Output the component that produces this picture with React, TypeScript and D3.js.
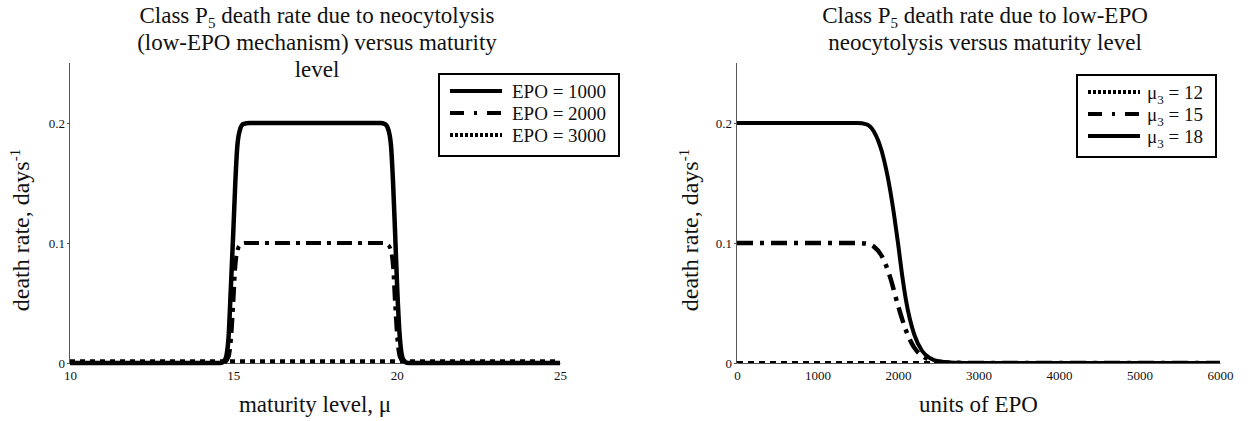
import React, { useEffect, useRef } from "react";
import * as d3 from "d3";

// ---------- Left panel: death rate vs maturity level ----------
const leftXTicks = [10, 15, 20, 25];
const yTicks = [0, 0.1, 0.2];

const epo1000X = [10, 14.6, 14.75, 14.85, 14.92, 15.0, 15.06, 15.12, 15.2, 15.3, 15.5, 19.5, 19.65, 19.75, 19.83, 19.89, 19.95, 20.02, 20.1, 20.2, 20.35, 25];
const epo1000Y = [0, 0, 0.003, 0.02, 0.06, 0.11, 0.15, 0.18, 0.194, 0.199, 0.2, 0.2, 0.199, 0.194, 0.18, 0.15, 0.11, 0.06, 0.02, 0.003, 0, 0];

const epo2000X = [10, 14.7, 14.85, 14.93, 15.0, 15.06, 15.12, 15.2, 15.35, 19.6, 19.75, 19.83, 19.89, 19.95, 20.02, 20.1, 20.25, 25];
const epo2000Y = [0, 0, 0.005, 0.02, 0.05, 0.08, 0.093, 0.098, 0.1, 0.1, 0.098, 0.093, 0.08, 0.05, 0.02, 0.005, 0, 0];

const epo3000X = [10, 15, 20, 25];
const epo3000Y = [0.0015, 0.0015, 0.0015, 0.0015];

// ---------- Right panel: death rate vs units of EPO ----------
const rightXTicks = [0, 1000, 2000, 3000, 4000, 5000, 6000];

const mu12X = [0, 2000, 4000, 6000];
const mu12Y = [0, 0, 0, 0];

const mu15X = [0, 1500, 1600, 1700, 1800, 1900, 2000, 2100, 2200, 2300, 2400, 2500, 2700, 3000, 6000];
const mu15Y = [0.1, 0.1, 0.0995, 0.097, 0.089, 0.072, 0.048, 0.027, 0.013, 0.006, 0.0025, 0.001, 0.0002, 0, 0];

const mu18X = [0, 1000, 1500, 1600, 1700, 1800, 1900, 1950, 2000, 2050, 2100, 2200, 2300, 2400, 2500, 2700, 3000, 6000];
const mu18Y = [0.2, 0.2, 0.2, 0.199, 0.193, 0.176, 0.145, 0.124, 0.1, 0.074, 0.052, 0.024, 0.01, 0.004, 0.0015, 0.0003, 0, 0];

const FONT = "'Liberation Serif', 'Times New Roman', serif";

export default function App() {
  const ref = useRef<SVGSVGElement>(null);

  useEffect(() => {
    const svg = d3.select(ref.current);
    svg.selectAll("*").remove();

    const yTop = 63, yBot = 363;

    type Series = { xs: number[]; ys: number[]; dash: string | null; width: number };

    function panel(opts: {
      x0: number; x1: number; domain: [number, number]; xTicks: number[];
      series: Series[]; clip: boolean; id: string;
      xLabel: string; yLabelX: number; titleX: number; titleLines: string[][];
      legend: { x: number; y: number; w: number; h: number; lineX0: number; lineX1: number; textX: number; rows: { y: number; dash: string | null; width: number; label: string[] }[] };
      xFmt: (d: number) => string;
    }) {
      const x = d3.scaleLinear().domain(opts.domain).range([opts.x0, opts.x1]);
      const y = d3.scaleLinear().domain([0, 0.25]).range([yBot, yTop]);
      const g = svg.append("g");

      if (opts.clip) {
        g.append("clipPath").attr("id", opts.id)
          .append("rect").attr("x", opts.x0).attr("y", yTop - 5).attr("width", opts.x1 - opts.x0 + 3).attr("height", yBot - yTop + 5);
      }

      // axes
      const ya = g.append("g").attr("transform", `translate(${opts.x0},0)`)
        .call(d3.axisLeft(y).tickValues(yTicks).tickSize(3).tickPadding(2).tickFormat((d: any) => (d === 0 ? "0" : d3.format(".1f")(d))));
      ya.select(".domain").attr("stroke", "#555").attr("d", `M-0.5,${yTop}V${yBot}`);
      ya.selectAll(".tick line").attr("stroke", "#555");
      ya.selectAll("text").attr("font-family", FONT).attr("font-size", 13).attr("fill", "#111");

      const xa = g.append("g").attr("transform", `translate(0,${yBot})`)
        .call(d3.axisBottom(x).tickValues(opts.xTicks).tickSize(0).tickPadding(8).tickFormat((d: any) => opts.xFmt(d)));
      xa.select(".domain").attr("stroke", "#555");
      xa.selectAll("text").attr("font-family", FONT).attr("font-size", 13).attr("fill", "#111");

      // lines
      const lg = g.append("g");
      if (opts.clip) lg.attr("clip-path", `url(#${opts.id})`);
      opts.series.forEach((s) => {
        const pts = s.xs.map((v, i) => [v, s.ys[i]] as [number, number]);
        const line = d3.line<[number, number]>().x((d) => x(d[0])).y((d) => y(d[1])).curve(d3.curveMonotoneX);
        lg.append("path").attr("d", line(pts)!).attr("fill", "none").attr("stroke", "#000")
          .attr("stroke-width", s.width).attr("stroke-dasharray", s.dash ?? null).attr("stroke-linejoin", "round");
      });

      // titles
      const t = g.append("text").attr("font-family", FONT).attr("font-size", 23).attr("text-anchor", "middle").attr("fill", "#111");
      opts.titleLines.forEach((parts, i) => {
        const tl = t.append("tspan").attr("x", opts.titleX).attr("y", 23 + i * 27);
        if (parts.length === 1) tl.text(parts[0]);
        else {
          tl.text(parts[0]);
          t.append("tspan").attr("font-size", 15).attr("dy", 5).text(parts[1]);
          t.append("tspan").attr("dy", -5).text(parts[2]);
        }
      });

      // axis labels
      g.append("text").attr("x", (opts.x0 + opts.x1) / 2).attr("y", 412).attr("text-anchor", "middle")
        .attr("font-family", FONT).attr("font-size", 23).attr("fill", "#111").text(opts.xLabel);
      const yl = g.append("text").attr("transform", `translate(${opts.yLabelX},230) rotate(-90)`)
        .attr("text-anchor", "middle").attr("font-family", FONT).attr("font-size", 24).attr("fill", "#111");
      yl.append("tspan").text("death rate, days");
      yl.append("tspan").attr("font-size", 15).attr("dy", -9).text("-1");

      // legend
      const L = opts.legend;
      g.append("rect").attr("x", L.x).attr("y", L.y).attr("width", L.w).attr("height", L.h)
        .attr("fill", "#fff").attr("stroke", "#000").attr("stroke-width", 2);
      L.rows.forEach((r) => {
        g.append("line").attr("x1", L.lineX0).attr("x2", L.lineX1).attr("y1", r.y).attr("y2", r.y)
          .attr("stroke", "#000").attr("stroke-width", r.width).attr("stroke-dasharray", r.dash ?? null);
        const tx = g.append("text").attr("x", L.textX).attr("y", r.y + 6.5).attr("font-family", FONT)
          .attr("font-size", 19).attr("fill", "#111");
        if (r.label.length === 1) tx.text(r.label[0]);
        else {
          tx.append("tspan").text(r.label[0]);
          tx.append("tspan").attr("font-size", 13).attr("dy", 5).text(r.label[1]);
          tx.append("tspan").attr("dy", -5).text(r.label[2]);
        }
      });
    }

    const DASHDOT = "15 6 4 6";

    panel({
      x0: 70, x1: 560, domain: [10, 25], xTicks: leftXTicks, clip: false, id: "clipL",
      series: [
        { xs: epo3000X, ys: epo3000Y, dash: "5 5", width: 4 },
        { xs: epo2000X, ys: epo2000Y, dash: DASHDOT, width: 4 },
        { xs: epo1000X, ys: epo1000Y, dash: null, width: 4.5 },
      ],
      xLabel: "maturity level, μ", yLabelX: 29, titleX: 317,
      titleLines: [["Class P", "5", " death rate due to neocytolysis"], ["(low-EPO mechanism) versus maturity"], ["level"]],
      legend: {
        x: 439, y: 74, w: 180, h: 82, lineX0: 450, lineX1: 502, textX: 512,
        rows: [
          { y: 91, dash: null, width: 4, label: ["EPO = 1000"] },
          { y: 113, dash: "14 10 3 10", width: 4, label: ["EPO = 2000"] },
          { y: 135, dash: "3 2", width: 4, label: ["EPO = 3000"] },
        ],
      },
      xFmt: (d) => String(d),
    });

    panel({
      x0: 737, x1: 1220, domain: [0, 6000], xTicks: rightXTicks, clip: true, id: "clipR",
      series: [
        { xs: mu12X, ys: mu12Y, dash: "6 5", width: 4 },
        { xs: mu15X, ys: mu15Y, dash: "16 7 4 7", width: 4.5 },
        { xs: mu18X, ys: mu18Y, dash: null, width: 4 },
      ],
      xLabel: "units of EPO", yLabelX: 698, titleX: 985,
      titleLines: [["Class P", "5", " death rate due to low-EPO"], ["neocytolysis versus maturity level"]],
      legend: {
        x: 1077, y: 75, w: 139, h: 82, lineX0: 1088, lineX1: 1140, textX: 1147,
        rows: [
          { y: 92, dash: "3 2", width: 4, label: ["μ", "3", " = 12"] },
          { y: 114, dash: "14 10 3 10", width: 4, label: ["μ", "3", " = 15"] },
          { y: 136, dash: null, width: 4, label: ["μ", "3", " = 18"] },
        ],
      },
      xFmt: (d) => String(d),
    });
  }, []);

  return (
    <svg ref={ref} width={1250} height={421} style={{ position: "absolute", left: 0, top: 0, background: "#fff" }} />
  );
}
